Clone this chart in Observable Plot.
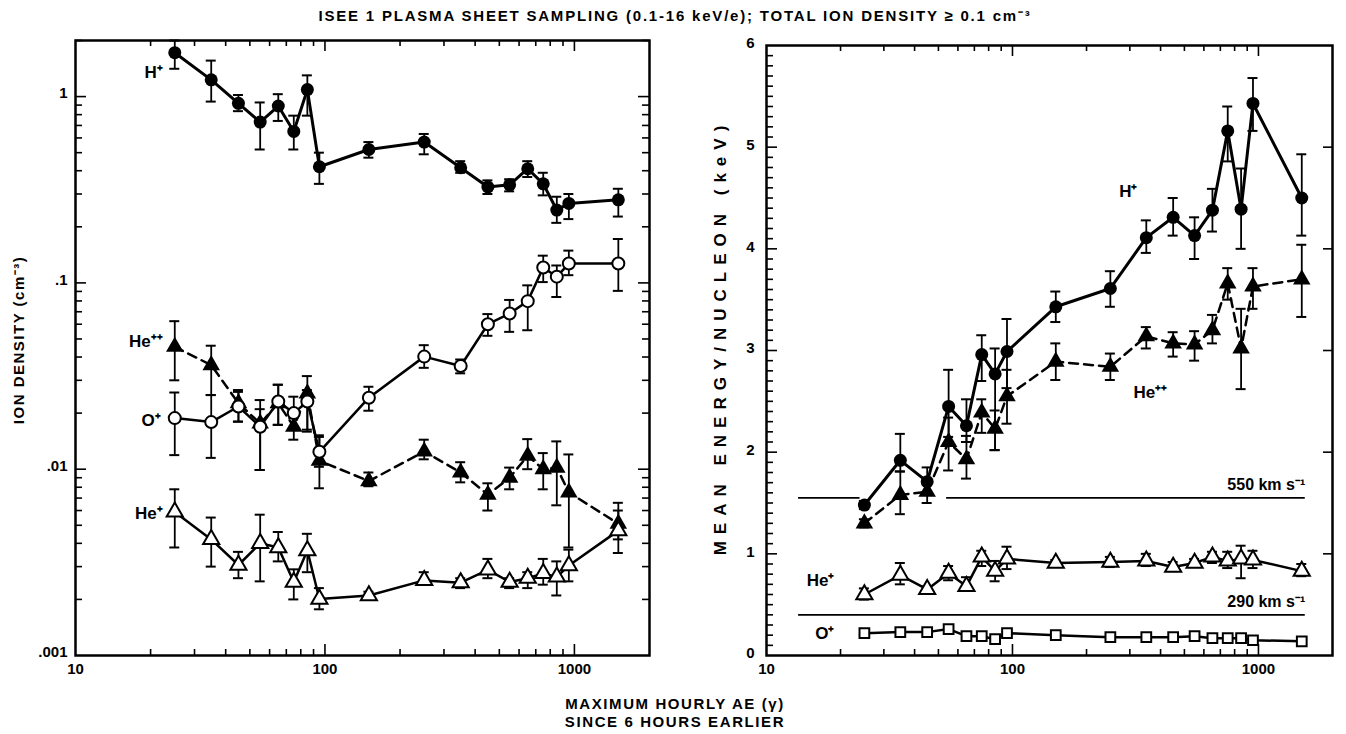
<!DOCTYPE html>
<html><head><meta charset="utf-8">
<script src="https://cdn.jsdelivr.net/npm/d3@7"></script>
<script src="https://cdn.jsdelivr.net/npm/@observablehq/plot@0.6"></script>
<style>
body{margin:0;background:#fff;}
#wrap{position:relative;width:1346px;height:734px;font-family:"Liberation Sans",Arial,sans-serif;color:#000;background:#fff;overflow:hidden;}
#wrap svg{position:absolute;top:0;}
.t{position:absolute;white-space:nowrap;font-weight:bold;}
</style></head><body><div id="wrap"></div>
<script>
// ---------- data ----------
const ae = [25,35,45,55,65,75,85,95,150,250,350,450,550,650,750,850,950,1500];

// left panel: ion density (cm^-3)
const hDens   = [1.72,1.23,0.92,0.73,0.89,0.65,1.09,0.42,0.52,0.57,0.415,0.327,0.336,0.41,0.34,0.246,0.267,0.279];
const hDensHi = [2.0,1.56,1.02,0.93,1.03,0.79,1.30,0.50,0.57,0.63,0.45,0.355,0.36,0.45,0.39,0.29,0.30,0.32];
const hDensLo = [1.41,0.94,0.835,0.52,0.74,0.52,0.79,0.34,0.47,0.49,0.39,0.30,0.31,0.37,0.295,0.21,0.22,0.227];

const oDens   = [0.0188,0.0179,0.0217,0.0169,0.0231,0.020,0.0231,0.0124,0.0242,0.0402,0.0358,0.060,0.0685,0.0798,0.121,0.108,0.127,0.127];
const oDensHi = [0.0258,0.025,0.026,0.0235,0.0284,0.0245,0.0266,0.0152,0.0277,0.0463,0.0388,0.068,0.081,0.097,0.14,0.124,0.149,0.172];
const oDensLo = [0.0119,0.0115,0.018,0.0099,0.0173,0.0165,0.0159,0.0103,0.0206,0.035,0.0327,0.052,0.0546,0.0557,0.101,0.084,0.11,0.0906];

const heppDens   = [0.0454,0.0362,0.0226,0.0176,0.0226,0.0169,0.0255,0.0111,0.00863,0.01244,0.0096,0.0073,0.009,0.0118,0.010,0.0102,0.0075,0.0051];
const heppDensHi = [0.0623,0.046,0.0266,0.021,0.0284,0.0188,0.0316,0.0149,0.0096,0.0144,0.0109,0.0084,0.0102,0.0145,0.0122,0.0141,0.012,0.0066];
const heppDensLo = [0.030,0.025,0.018,0.0099,0.0173,0.0144,0.0163,0.0079,0.0081,0.0113,0.0085,0.006,0.0078,0.010,0.0078,0.0064,0.0038,0.0042];

const hepDens   = [0.0059,0.0042,0.00306,0.0040,0.0038,0.00248,0.00366,0.00201,0.0021,0.00253,0.00246,0.00288,0.00248,0.0026,0.00276,0.00264,0.00304,0.00468];
const hepDensHi = [0.0078,0.0055,0.0036,0.0057,0.0046,0.0029,0.0045,0.0023,0.0022,0.0028,0.0026,0.0033,0.0026,0.0028,0.0033,0.0032,0.0037,0.006];
const hepDensLo = [0.0038,0.0030,0.0026,0.0025,0.0032,0.0020,0.0028,0.00177,0.0020,0.0024,0.0023,0.0026,0.0023,0.0023,0.0024,0.0021,0.0025,0.00355];

// right panel: mean energy / nucleon (keV)
const hE   = [1.48,1.92,1.71,2.45,2.26,2.96,2.77,2.99,3.43,3.61,4.11,4.31,4.13,4.38,5.16,4.39,5.43,4.50];
const hEHi = [1.52,2.18,1.85,2.81,2.52,3.15,3.02,3.31,3.58,3.78,4.28,4.50,4.31,4.59,5.40,4.79,5.68,4.93];
const hELo = [1.44,1.81,1.60,2.15,2.10,2.70,2.02,2.63,3.28,3.43,3.96,4.13,3.90,4.17,4.86,4.00,5.16,4.13];

const heppE   = [1.30,1.58,1.61,2.10,1.93,2.39,2.23,2.55,2.89,2.84,3.14,3.07,3.06,3.20,3.66,3.02,3.63,3.70];
const heppEHi = [1.34,1.81,1.68,2.34,2.16,2.52,2.41,2.81,3.07,2.97,3.23,3.18,3.19,3.35,3.81,3.41,3.81,4.04];
const heppELo = [1.26,1.39,1.50,1.82,1.74,2.19,2.02,2.28,2.71,2.71,3.02,2.94,2.90,3.07,3.50,2.62,3.41,3.33];

const hepE   = [0.60,0.79,0.65,0.81,0.68,0.97,0.83,0.95,0.91,0.92,0.93,0.87,0.91,0.97,0.93,0.95,0.94,0.83];
const hepEHi = [0.66,0.91,0.68,0.88,0.77,1.03,0.93,1.07,0.94,0.97,1.00,0.92,0.95,1.02,1.02,1.08,1.03,0.90];
const hepELo = [0.55,0.70,0.62,0.74,0.65,0.88,0.73,0.85,0.88,0.87,0.88,0.83,0.87,0.91,0.86,0.76,0.86,0.78];

const oE = [0.22,0.23,0.23,0.26,0.19,0.19,0.16,0.22,0.20,0.18,0.18,0.18,0.19,0.17,0.17,0.17,0.15,0.14];

// solar-wind speed reference lines (energy per nucleon)
const speedLabels = ["550 km s\u207B\u00B9", "290 km s\u207B\u00B9"];
const speedEnergy = [1.55, 0.40];
const speedSegStart = [[13.5, 54], [13.5]];
const speedSegEnd   = [[24, 1550], [1550]];

// tick values
const xTickLabels = [10, 100, 1000];
const xMajor = [100, 1000];
const xMinor = [20,30,40,50,60,70,80,90,200,300,400,500,600,700,800,900];
const densTicks = [0.001, 0.01, 0.1, 1];
const densTickText = [".001", ".01", ".1", "1"];
const densMajor = [0.01, 0.1, 1];
const densMinor = [0.002,0.003,0.004,0.005,0.006,0.007,0.008,0.009,0.02,0.03,0.04,0.05,0.06,0.07,0.08,0.09,0.2,0.3,0.4,0.5,0.6,0.7,0.8,0.9,2];
const enTicks = [0,1,2,3,4,5,6];
const enMajor = [1,2,3,4,5];
const enMinor = d3.range(1, 60).filter(v => v % 10 !== 0).map(v => v / 10);

// ---------- helpers ----------
const rows = (y, lo, hi) => ae.map((x, i) => ({x, y: y[i], lo: lo ? lo[i] : null, hi: hi ? hi[i] : null}));
const FONT = "'Liberation Sans', Arial, sans-serif";
const TXT = {fontFamily: FONT, fontWeight: "bold", fill: "#000"};

function ticks(fw, fh, yMaj, yMin, yRight) {
  const s = {stroke: "#000", strokeWidth: 1.6};
  return [
    Plot.ruleX(xMajor, {x: d => d, insetTop: fh - 11, ...s}),
    Plot.ruleX(xMajor, {x: d => d, insetBottom: fh - 11, ...s}),
    Plot.ruleX(xMinor, {x: d => d, insetTop: fh - 6, ...s}),
    Plot.ruleX(xMinor, {x: d => d, insetBottom: fh - 6, ...s}),
    Plot.ruleY(yMaj, {y: d => d, insetRight: fw - 11, ...s}),
    Plot.ruleY(yMin, {y: d => d, insetRight: fw - 7, ...s}),
    ...yRight.map(([vals, len]) => Plot.ruleY(vals, {y: d => d, insetLeft: fw - len, ...s}))
  ];
}
function errs(d) {
  return [
    Plot.ruleX(d, {x: "x", y1: "lo", y2: "hi", stroke: "#000", strokeWidth: 1.8}),
    Plot.ruleY(d, {y: "hi", x1: "x", x2: "x", insetLeft: -5, insetRight: -5, stroke: "#000", strokeWidth: 2}),
    Plot.ruleY(d, {y: "lo", x1: "x", x2: "x", insetLeft: -5, insetRight: -5, stroke: "#000", strokeWidth: 2})
  ];
}
function label(d, text, dx, dy, anchor = "end") {
  return Plot.text(d, {x: "x", y: "y", text: () => text, dx, dy, textAnchor: anchor, fontSize: 17, ...TXT});
}
function xAxis() {
  return Plot.axisX({ticks: xTickLabels, tickFormat: d => String(d), tickSize: 0, tickPadding: 8, fontSize: 15, label: null, ...TXT});
}

// ---------- left panel ----------
const H = 690, mT1 = 40, mB = 35;
const W1 = 680, mL1 = 75, mR1 = 31;
const fw1 = W1 - mL1 - mR1, fh1 = H - mT1 - mB;

const dH = rows(hDens, hDensLo, hDensHi);
const dO = rows(oDens, oDensLo, oDensHi);
const dHepp = rows(heppDens, heppDensLo, heppDensHi);
const dHep = rows(hepDens, hepDensLo, hepDensHi);

const left = Plot.plot({
  width: W1, height: H, marginLeft: mL1, marginRight: mR1, marginTop: mT1, marginBottom: mB,
  style: {fontFamily: FONT, background: "transparent", color: "#000"},
  x: {type: "log", domain: [10, 2000]},
  y: {type: "log", domain: [0.001, 2]},
  marks: [
    ...ticks(fw1, fh1, densMajor, densMinor, [[densMajor, 11], [densMinor, 7]]),
    xAxis(),
    Plot.axisY({ticks: densTicks, tickFormat: d => densTickText[densTicks.indexOf(d)], tickSize: 0, tickPadding: 8, dy: -3, fontSize: 15, label: null, ...TXT}),
    Plot.line(dH, {x: "x", y: "y", stroke: "#000", strokeWidth: 3}),
    Plot.line(dO, {x: "x", y: "y", stroke: "#000", strokeWidth: 2.5}),
    Plot.line(dHepp, {x: "x", y: "y", stroke: "#000", strokeWidth: 2.5, strokeDasharray: "9,6"}),
    Plot.line(dHep, {x: "x", y: "y", stroke: "#000", strokeWidth: 2.5}),
    ...errs(dH), ...errs(dO), ...errs(dHepp), ...errs(dHep),
    Plot.dot(dH, {x: "x", y: "y", r: 6.5, symbol: "circle", fill: "#000"}),
    Plot.dot(dHepp, {x: "x", y: "y", r: 6.5, symbol: "triangle", fill: "#000"}),
    Plot.dot(dO, {x: "x", y: "y", r: 6, symbol: "circle", fill: "#fff", stroke: "#000", strokeWidth: 2}),
    Plot.dot(dHep, {x: "x", y: "y", r: 6, symbol: "triangle", fill: "#fff", stroke: "#000", strokeWidth: 2}),
    label(dH.slice(0, 1), "H\u207A", -12, 20),
    label(dHepp.slice(0, 1), "He\u207A\u207A", -12, -5),
    label(dO.slice(0, 1), "O\u207A", -14, 2),
    label(dHep.slice(0, 1), "He\u207A", -12, 2),
    Plot.frame({stroke: "#000", strokeWidth: 2.5})
  ]
});
left.style.left = "0px";

// ---------- right panel ----------
const W2 = 666, mL2 = 86, mR2 = 14, mT2 = 45;
const fw2 = W2 - mL2 - mR2, fh2 = H - mT2 - mB;

const eH = rows(hE, hELo, hEHi);
const eHepp = rows(heppE, heppELo, heppEHi);
const eHep = rows(hepE, hepELo, hepEHi);
const eO = rows(oE);

const segs = [];
speedEnergy.forEach((e, k) => speedSegStart[k].forEach((s, j) => segs.push({x1: s, x2: speedSegEnd[k][j], y: e})));
const speedText = speedEnergy.map((e, k) => ({x: 1550, y: e, t: speedLabels[k]}));

const right = Plot.plot({
  width: W2, height: H, marginLeft: mL2, marginRight: mR2, marginTop: mT2, marginBottom: mB,
  style: {fontFamily: FONT, background: "transparent", color: "#000"},
  x: {type: "log", domain: [10, 2000]},
  y: {domain: [0, 6]},
  marks: [
    ...ticks(fw2, fh2, enMajor, enMinor, [[enMajor, 9]]),
    xAxis(),
    Plot.axisY({ticks: enTicks, tickFormat: d => String(d), tickSize: 0, tickPadding: 12, dy: -2, fontSize: 15, label: null, ...TXT}),
    Plot.ruleY(segs, {y: "y", x1: "x1", x2: "x2", stroke: "#000", strokeWidth: 1.6}),
    Plot.text(speedText, {x: "x", y: "y", text: "t", dy: -13, textAnchor: "end", fontSize: 16, letterSpacing: "2.6px", ...TXT}),
    Plot.line(eH, {x: "x", y: "y", stroke: "#000", strokeWidth: 3}),
    Plot.line(eHepp, {x: "x", y: "y", stroke: "#000", strokeWidth: 2.5, strokeDasharray: "9,6"}),
    Plot.line(eHep, {x: "x", y: "y", stroke: "#000", strokeWidth: 2.5}),
    Plot.line(eO, {x: "x", y: "y", stroke: "#000", strokeWidth: 2.5}),
    ...errs(eH), ...errs(eHepp), ...errs(eHep),
    Plot.dot(eH, {x: "x", y: "y", r: 6.5, symbol: "circle", fill: "#000"}),
    Plot.dot(eHepp, {x: "x", y: "y", r: 6.5, symbol: "triangle", fill: "#000"}),
    Plot.dot(eHep, {x: "x", y: "y", r: 6, symbol: "triangle", fill: "#fff", stroke: "#000", strokeWidth: 2}),
    Plot.dot(eO, {x: "x", y: "y", r: 5.5, symbol: "square", fill: "#fff", stroke: "#000", strokeWidth: 2}),
    label(eH.filter(d => d.x === 350), "H\u207A", -18, -46, "middle"),
    label(eHepp.filter(d => d.x === 350), "He\u207A\u207A", 4, 56, "middle"),
    label(eHep.slice(0, 1), "He\u207A", -30, -14),
    label(eO.slice(0, 1), "O\u207A", -30, 0),
    Plot.frame({stroke: "#000", strokeWidth: 2.5})
  ]
});
right.style.left = "680px";

const wrap = document.getElementById("wrap");
wrap.append(left, right);

function addText(txt, css) {
  const d = document.createElement("div");
  d.className = "t";
  d.textContent = txt;
  Object.assign(d.style, css);
  wrap.append(d);
  return d;
}
addText("ISEE 1 PLASMA SHEET SAMPLING (0.1-16 keV/e); TOTAL ION DENSITY \u2265 0.1 cm\u207B\u00B3",
  {left: "675px", top: "5px", transform: "translateX(-50%)", fontSize: "15px", letterSpacing: "1.8px"});
addText("MAXIMUM HOURLY AE (\u03B3)", {left: "675px", top: "695px", transform: "translateX(-50%)", fontSize: "15px", letterSpacing: "1.6px"});
addText("SINCE 6 HOURS EARLIER", {left: "675px", top: "713px", transform: "translateX(-50%)", fontSize: "15px", letterSpacing: "1.6px"});
addText("ION DENSITY (cm\u207B\u00B3)", {left: "18px", top: "340px", transform: "translate(-50%,-50%) rotate(-90deg)", fontSize: "15px", letterSpacing: "1.5px"});
addText("MEAN ENERGY/NUCLEON (keV)", {left: "721px", top: "337px", transform: "translate(-50%,-50%) rotate(-90deg)", fontSize: "17px", letterSpacing: "7px"});
</script></body></html>
